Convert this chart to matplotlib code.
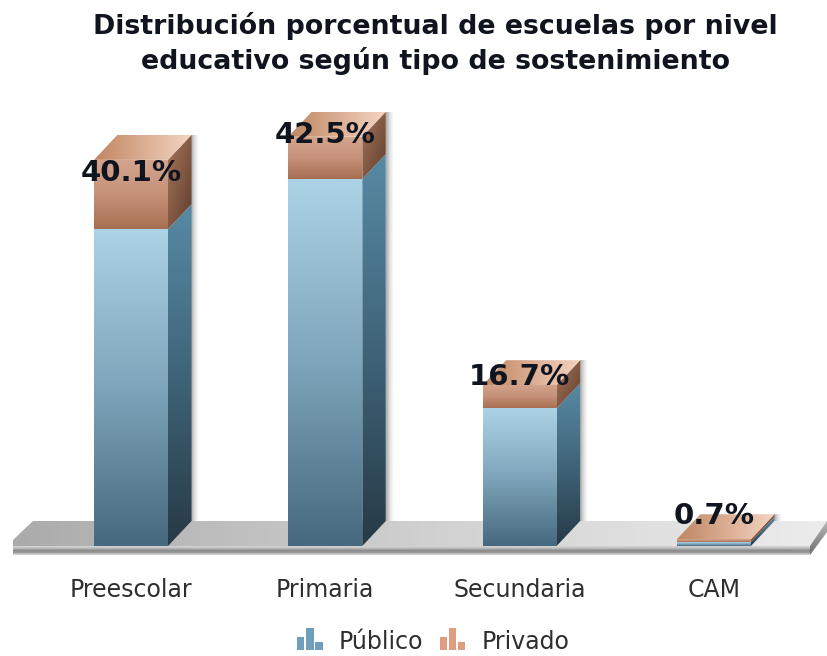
import matplotlib
matplotlib.use('Agg')
import matplotlib.pyplot as plt
import numpy as np
from matplotlib.colors import LinearSegmentedColormap
from matplotlib.legend_handler import HandlerBase
from matplotlib.patches import Patch, Polygon, Rectangle

categories = ['Preescolar', 'Primaria', 'Secundaria', 'CAM']
publico = [32.9, 38.1, 14.3, 0.4]
privado = [7.2, 4.4, 2.4, 0.3]
labels = ['40.1%', '42.5%', '16.7%', '0.7%']
series = ['Público', 'Privado']
title = 'Distribución porcentual de escuelas por nivel\neducativo según tipo de sostenimiento'

# pixel layout of the original picture
W, H = 827, 656
x_first, x_step = 131, 194.3
y_zero, y_scale = 546, 9.63
bar_w = 74 / x_step
dx, dy = 23.5 / x_step, 25 / y_scale
label_shift = [-1.35, 0.2, 0.9, 2.4]


def px(x, y):
    return (x - x_first) / x_step, (y_zero - y) / y_scale


fig, ax = plt.subplots(figsize=(W / 100, H / 100), dpi=100)
ax.set_position([0, 0, 1, 1])


def shade(pts, colors, direction='v', z=2):
    pts = np.array(pts)
    t = np.linspace(0, 1, 128)
    if direction == 'v':
        g = t[:, None]
    elif direction == 'h':
        g = t[None, :]
    else:
        g = (t[:, None] + t[None, :]) / 2
    cmap = LinearSegmentedColormap.from_list('g', colors)
    ext = (pts[:, 0].min(), pts[:, 0].max(), pts[:, 1].min(), pts[:, 1].max())
    im = ax.imshow(g, cmap=cmap, extent=ext, aspect='auto', interpolation='bilinear', zorder=z)
    im.set_clip_path(Polygon(pts, transform=ax.transData))


# floor
shade([px(13, 546), px(13, 540), px(33, 521), px(827, 521), px(810, 546)], ['#ababab', '#d0d0d0', '#ececec'], 'h', 1)
shade([px(13, 546), px(810, 546), px(810, 555), px(13, 555)],
      ['#d8d8d8', '#bcbcbc', '#888888', '#9c9c9c', '#e4e4e4'], 'v', 1.1)
shade([px(810, 546), px(827, 521), px(827, 532), px(810, 555)], ['#b8b8b8', '#6f6f6f'], 'v', 1.1)

pub_front = ['#acd2e6', '#7ea5bb', '#46697f']
pub_side = ['#588aa4', '#3f6479', '#273a46']
pri_front = ['#d4a58e', '#c59179', '#a86f52']
pri_side = ['#a87559', '#5e3e2e']
pri_top = ['#c08662', '#f4d4c2']

for i in range(len(categories)):
    x0, x1 = i - bar_w / 2, i + bar_w / 2
    a, b = publico[i], publico[i] + privado[i]

    # soft shadow on the right of the bar
    sx = x1 + dx
    sw = 8 / x_step
    shade([(sx, b + dy), (sx + sw, b + dy), (sx + sw, dy), (sx, dy)], ['#a8a8a8', '#e2e2e2', '#ffffff'], 'h', 1.5)

    shade([(x0, 0), (x1, 0), (x1, a), (x0, a)], pub_front, 'v', 3)
    shade([(x1, 0), (x1 + dx, dy), (x1 + dx, a + dy), (x1, a)], pub_side, 'v', 3)
    shade([(x0, a), (x1, a), (x1, b), (x0, b)], pri_front, 'v', 4)
    shade([(x1, a), (x1 + dx, a + dy), (x1 + dx, b + dy), (x1, b)], pri_side, 'd', 4)
    shade([(x0, b), (x1, b), (x1 + dx, b + dy), (x0 + dx, b + dy)], pri_top, 'h', 4)

    ax.text(i, b + label_shift[i], labels[i], ha='center', va='center', fontsize=21,
            fontweight='bold', color='#10141f', zorder=6)

ax.set_xlim(px(0, 0)[0], px(W, 0)[0])
ax.set_ylim(px(0, H)[1], px(0, 0)[1])
for s in ax.spines.values():
    s.set_visible(False)
ax.set_yticks([])
ax.set_xticks(range(len(categories)), categories)
ax.tick_params(axis='x', length=0, pad=-56, labelsize=17, labelcolor='#2e2e2e')
ax.set_title(title, fontsize=19.3, fontweight='bold', color='#10141f', x=0.526, y=0.895, pad=0, linespacing=1.3)


class IconHandler(HandlerBase):
    def create_artists(self, legend, orig, xd, yd, width, height, fontsize, trans):
        c = orig.get_facecolor()
        out = []
        for l, h in [(0, 0.75), (0.36, 1.3), (0.72, 0.4)]:
            out.append(Rectangle((-xd + l * width, -yd - 1), width * 0.29, height * h + 1, fc=c, ec='none', transform=trans))
        return out


handles = [Patch(fc='#6f9fba'), Patch(fc='#dd9f80')]
ax.legend(handles, series, handler_map={Patch: IconHandler()}, loc='center', bbox_to_anchor=(0.524, 1 - 642 / H),
          ncol=2, frameon=False, fontsize=17, labelcolor='#2e2e2e', handlelength=1.07, handletextpad=0.7, columnspacing=0.7)

fig.savefig('out.png', dpi=100)
